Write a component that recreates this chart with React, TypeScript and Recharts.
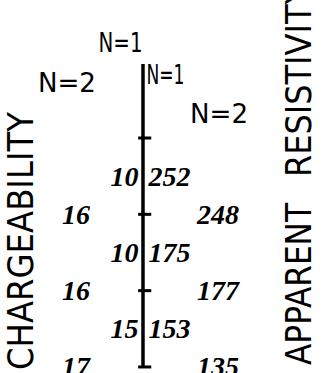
import { ScatterChart, Scatter, XAxis, YAxis, ReferenceLine, ReferenceDot } from 'recharts';

// survey stations (tick marks on the line) and the plotting rows of each N level
const stations = [1, 2, 3, 4];
const n1Rows = [1.5, 2.5, 3.5];
const n2Rows = [2, 3, 4];

// chargeability (left of the line) and apparent resistivity (right of the line)
const chargeN1 = [10, 10, 15];
const chargeN2 = [16, 16, 17];
const resistN1 = [252, 175, 153];
const resistN2 = [248, 177, 135];

const W = 326;
const H = 373;
const INK = '#000';
const HAND = '"Liberation Serif", serif';
const LETTER = '"DejaVu Sans", sans-serif';

const rows = (values: number[], ys: number[], col: number) =>
  values.map((v, i) => ({ x: col, y: ys[i], value: v }));

const valueShape = (dx: number) => (props: any) => {
  const { cx, cy, payload } = props;
  return (
    <text
      x={cx + dx}
      y={cy}
      dy="0.34em"
      textAnchor="middle"
      fontFamily={HAND}
      fontStyle="italic"
      fontWeight="bold"
      fontSize={28}
      fill={INK}
    >
      {payload.value}
    </text>
  );
};

const headerShape = (text: string, dx: number, len: number) => (props: any) => (
  <text
    x={props.cx + dx}
    y={props.cy}
    dy="0.36em"
    textAnchor="middle"
    fontFamily={LETTER}
    fontSize={27}
    textLength={len}
    lengthAdjust="spacingAndGlyphs"
    fill={INK}
  >
    {text}
  </text>
);

export default function App() {
  return (
    <div style={{ position: 'absolute', left: 0, top: 0, width: W, height: H, background: '#fff' }}>
      <ScatterChart width={W} height={H} margin={{ top: 0, right: 0, bottom: 0, left: 0 }}>
        <XAxis type="number" dataKey="x" domain={[-2.948, 3.773]} hide height={0} />
        <YAxis type="number" dataKey="y" domain={[-0.808, 4.079]} reversed hide width={0} />
        <ReferenceLine
          segment={[{ x: 0, y: 0.03 }, { x: 0, y: 4.01 }]}
          stroke={INK}
          strokeWidth={3.5}
        />
        {stations.map((s) => (
          <ReferenceLine
            key={s}
            segment={[{ x: -0.1, y: s }, { x: 0.17, y: s }]}
            stroke={INK}
            strokeWidth={3}
          />
        ))}
        <ReferenceDot x={-1} y={-0.26} r={0} shape={headerShape('N=1', 26, 44)} />
        <ReferenceDot x={-2} y={0.27} r={0} shape={headerShape('N=2', 21, 58)} />
        <ReferenceDot x={1} y={0.16} r={0} shape={headerShape('N=1', -26, 38)} />
        <ReferenceDot x={2} y={0.67} r={0} shape={headerShape('N=2', -21, 58)} />
        <Scatter data={rows(chargeN1, n1Rows, -1)} shape={valueShape(30)} isAnimationActive={false} />
        <Scatter data={rows(chargeN2, n2Rows, -2)} shape={valueShape(30)} isAnimationActive={false} />
        <Scatter data={rows(resistN1, n1Rows, 1)} shape={valueShape(-22)} isAnimationActive={false} />
        <Scatter data={rows(resistN2, n2Rows, 2)} shape={valueShape(-22)} isAnimationActive={false} />
      </ScatterChart>
      <svg
        width={W}
        height={H}
        style={{ position: 'absolute', left: 0, top: 0, pointerEvents: 'none' }}
      >
        <text
          x={33}
          y={370}
          transform="rotate(-90 33 370)"
          fontFamily={LETTER}
          fontSize={36}
          textLength={258}
          lengthAdjust="spacingAndGlyphs"
          fill={INK}
        >
          CHARGEABILITY
        </text>
        <text
          x={311}
          y={365}
          transform="rotate(-90 311 365)"
          fontFamily={LETTER}
          fontSize={36}
          textLength={162}
          lengthAdjust="spacingAndGlyphs"
          fill={INK}
        >
          APPARENT
        </text>
        <text
          x={311}
          y={177}
          transform="rotate(-90 311 177)"
          fontFamily={LETTER}
          fontSize={36}
          textLength={192}
          lengthAdjust="spacingAndGlyphs"
          fill={INK}
        >
          RESISTIVITY
        </text>
      </svg>
    </div>
  );
}
